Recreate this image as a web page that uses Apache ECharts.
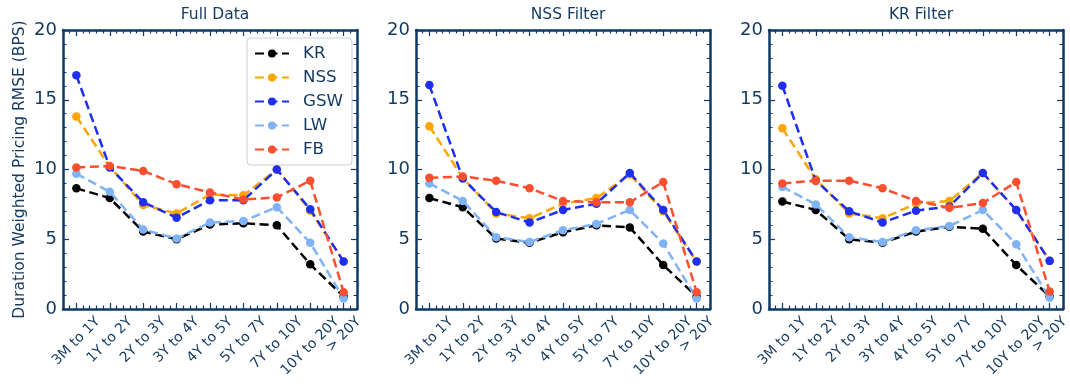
<!DOCTYPE html>
<html>
<head>
<meta charset="utf-8">
<script src="https://cdn.jsdelivr.net/npm/echarts@6/dist/echarts.min.js"></script>
<style>
  html, body { margin: 0; padding: 0; background: #ffffff; }
  #chart { width: 1070px; height: 390px; }
</style>
</head>
<body>
<div id="chart"></div>
<script>
// Maturity buckets on the x axis
const categories = ['3M to 1Y', '1Y to 2Y', '2Y to 3Y', '3Y to 4Y', '4Y to 5Y', '5Y to 7Y', '7Y to 10Y', '10Y to 20Y', '> 20Y'];
const panelTitles = ['Full Data', 'NSS Filter', 'KR Filter'];
const modelNames = ['KR', 'NSS', 'GSW', 'LW', 'FB'];
const modelColors = ['#000000', '#ffa500', '#1f2ff0', '#7fb3f5', '#fb4f2f'];
const yTicks = [0, 5, 10, 15, 20];

// Duration weighted pricing RMSE (bps) — full data
const fullKR  = [8.65, 7.95, 5.55, 5.0, 6.05, 6.15, 6.0, 3.2, 0.9];
const fullNSS = [13.8, 10.2, 7.45, 6.85, 8.2, 8.15, 10.0, 7.05, 3.4];
const fullGSW = [16.75, 10.15, 7.65, 6.55, 7.8, 7.8, 10.0, 7.15, 3.4];
const fullLW  = [9.7, 8.4, 5.7, 5.05, 6.2, 6.3, 7.3, 4.75, 0.75];
const fullFB  = [10.15, 10.25, 9.9, 8.95, 8.35, 7.85, 8.0, 9.2, 1.2];

// NSS filter
const nssKR  = [7.95, 7.3, 5.05, 4.75, 5.5, 6.0, 5.85, 3.15, 0.9];
const nssNSS = [13.1, 9.4, 6.85, 6.5, 7.55, 7.95, 9.65, 7.0, 3.4];
const nssGSW = [16.05, 9.35, 6.95, 6.2, 7.1, 7.55, 9.75, 7.1, 3.4];
const nssLW  = [9.0, 7.75, 5.15, 4.8, 5.65, 6.1, 7.1, 4.7, 0.75];
const nssFB  = [9.4, 9.5, 9.2, 8.65, 7.75, 7.65, 7.65, 9.1, 1.2];

// KR filter
const krKR  = [7.7, 7.1, 5.0, 4.75, 5.55, 5.9, 5.75, 3.15, 0.9];
const krNSS = [12.95, 9.3, 6.85, 6.5, 7.55, 7.75, 9.75, 7.1, 3.45];
const krGSW = [16.0, 9.2, 7.0, 6.2, 7.05, 7.35, 9.75, 7.1, 3.45];
const krLW  = [8.75, 7.5, 5.15, 4.8, 5.65, 5.95, 7.1, 4.65, 0.8];
const krFB  = [9.0, 9.2, 9.2, 8.65, 7.75, 7.25, 7.6, 9.1, 1.25];

const panelSeries = [
  [fullKR, fullNSS, fullGSW, fullLW, fullFB],
  [nssKR, nssNSS, nssGSW, nssLW, nssFB],
  [krKR, krNSS, krGSW, krLW, krFB]
];

const navy = '#0f3a66';
const textColor = '#12395f';
const fontFamily = '"DejaVu Sans", "Noto Sans", sans-serif';
const xFont = 14;
const xLineH = 16;

const gridLefts = [63, 416, 769];
const gridWidth = 294;
const gridTop = 30;
const gridHeight = 279;

const xMin = -0.4, xMax = 8.4;
const xSpan = xMax - xMin;
const pxPerUnit = gridWidth / xSpan;
const majorX = categories.map((c, i) => i);
const minorX = [];
for (let k = Math.round(xMin / 0.2); k <= Math.round(xMax / 0.2); k++) {
  if (k % 5 !== 0) minorX.push(+(k * 0.2).toFixed(2));
}

// Rotated tick labels are centred under their tick: the text end sits right of the tick
// by ~0.354 * text width, so each label is anchored at a shifted value on a wider label axis.
const measureCtx = document.createElement('canvas').getContext('2d');
measureCtx.font = xFont + 'px ' + fontFamily;
const labelPos = categories.map((c, i) => i + 0.3536 * measureCtx.measureText(c).width / pxPerUnit);
const labelExtra = 0.6;
const labelFor = (v) => {
  let best = 0;
  labelPos.forEach((p, i) => { if (Math.abs(p - v) < Math.abs(labelPos[best] - v)) best = i; });
  return categories[best];
};

const grids = [], xAxes = [], yAxes = [], series = [], titles = [];

function tickAxis(gridIndex, position, values, len, withLine) {
  return {
    type: 'value', gridIndex: gridIndex, position: position,
    min: xMin, max: xMax,
    axisLine: { show: withLine, onZero: false, lineStyle: { color: navy, width: 2.5 } },
    axisTick: { show: true, inside: true, length: len, customValues: values, lineStyle: { color: navy, width: 1.2 } },
    axisLabel: { show: false },
    splitLine: { show: false }
  };
}

function labelAxis(gridIndex, parity) {
  return {
    type: 'value', gridIndex: gridIndex, position: 'bottom',
    min: xMin, max: xMax + labelExtra,
    axisLine: { show: false, onZero: false },
    axisTick: { show: false },
    splitLine: { show: false },
    axisLabel: {
      show: true, rotate: 45, margin: 10.5, hideOverlap: false,
      customValues: labelPos.filter((p, i) => i % 2 === parity),
      fontSize: xFont, fontFamily: fontFamily, color: textColor, lineHeight: xLineH,
      formatter: labelFor
    }
  };
}

panelTitles.forEach((t, p) => {
  // plotting grid
  grids.push({ left: gridLefts[p], top: gridTop, width: gridWidth, height: gridHeight, outerBoundsMode: 'none' });
  titles.push({
    text: t, left: gridLefts[p] + gridWidth / 2, top: 2, textAlign: 'center',
    textStyle: { fontSize: 15.5, fontWeight: 'normal', color: textColor, fontFamily: fontFamily }
  });

  xAxes.push(tickAxis(p, 'bottom', majorX, 6, true));
  xAxes.push(tickAxis(p, 'bottom', minorX, 3.5, false));
  xAxes.push(tickAxis(p, 'top', majorX, 6, true));
  xAxes.push(tickAxis(p, 'top', minorX, 3.5, false));

  ['left', 'right'].forEach((pos) => {
    yAxes.push({
      type: 'value', gridIndex: p, position: pos, min: 0, max: 20, interval: 5,
      name: (p === 0 && pos === 'left') ? 'Duration Weighted Pricing RMSE (BPS)' : '',
      nameLocation: 'middle', nameGap: 35,
      nameTextStyle: { fontSize: 15.5, color: textColor, fontFamily: fontFamily },
      axisLine: { show: true, onZero: false, lineStyle: { color: navy, width: 2.5 } },
      axisTick: { show: true, inside: true, length: 6, lineStyle: { color: navy, width: 1.2 } },
      minorTick: { show: true, splitNumber: 5, length: 3.5, lineStyle: { color: navy, width: 1 } },
      axisLabel: {
        show: pos === 'left', fontSize: 18, color: textColor, fontFamily: fontFamily, margin: 6,
        customValues: yTicks
      },
      splitLine: { show: false }
    });
  });

  panelSeries[p].forEach((vals, m) => {
    series.push({
      type: 'line', name: modelNames[m],
      xAxisIndex: p * 4, yAxisIndex: p * 2,
      data: vals.map((v, i) => [i, v]),
      symbol: 'circle', symbolSize: 8.5, showSymbol: true,
      lineStyle: { color: modelColors[m], width: 2.5, type: [9, 4.5] },
      itemStyle: { color: modelColors[m] },
      emphasis: { disabled: true },
      animation: false,
      z: 2 + m
    });
  });
});

// label grids: same scale as the plotting grids, widened so shifted labels stay in range
panelTitles.forEach((t, p) => {
  const gi = grids.length;
  grids.push({
    left: gridLefts[p], top: gridTop, height: gridHeight,
    width: gridWidth * (xSpan + labelExtra) / xSpan, outerBoundsMode: 'none'
  });
  xAxes.push(labelAxis(gi, 0));
  xAxes.push(labelAxis(gi, 1));
  yAxes.push({ type: 'value', gridIndex: gi, show: false, min: 0, max: 20 });
});

const chart = echarts.init(document.getElementById('chart'), null, { renderer: 'canvas' });
chart.setOption({
  backgroundColor: '#ffffff',
  animation: false,
  title: titles,
  grid: grids,
  xAxis: xAxes,
  yAxis: yAxes,
  legend: {
    data: modelNames, orient: 'vertical', left: 247, top: 38,
    padding: [7, 9, 7, 7], itemGap: 7, itemWidth: 34, itemHeight: 10,
    backgroundColor: 'rgba(255,255,255,0.85)', borderColor: '#c9ced6', borderWidth: 1, borderRadius: 4,
    textStyle: { fontSize: 16.7, color: textColor, fontFamily: fontFamily, padding: [0, 0, 0, 9] }
  },
  series: series
});
</script>
</body>
</html>
